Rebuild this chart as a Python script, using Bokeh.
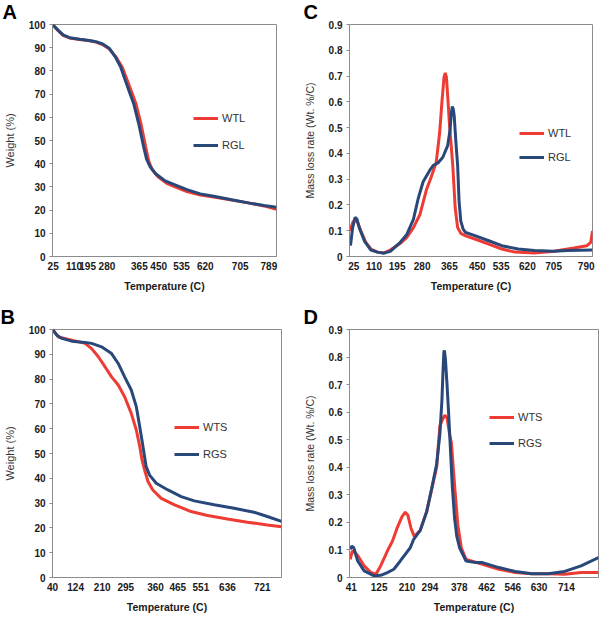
from bokeh.plotting import figure
from bokeh.layouts import column, row
from bokeh.models import FixedTicker, Range1d
from bokeh.embed import file_html
from bokeh.resources import INLINE

RED = "#EE3B33"
BLUE = "#29487A"
FRAME = "#8C8C8C"
FONT = "Liberation Sans"

# x is the position along each panel's category axis (0-100 % of axis length)
# ---------------- Panel A (TG, leaves) ----------------
a_xtick_pos = [0.3, 9.6, 15.7, 24.3, 38.8, 47.4, 57.6, 68.2, 83.8, 96.6]
a_xtick_lab = ["25", "110", "195", "280", "365", "450", "535", "620", "705", "789"]
a_rgl_x = [0, 2.5, 4.7, 7.6, 12.1, 16.5, 19.4, 22.4, 25.3, 28.2, 30.5, 32.6, 34.5, 36.3, 38.5, 40.7,
           42.0, 43.5, 45.9, 50.3, 54.7, 60, 66, 72, 80, 88, 94.4, 100]
a_rgl_y = [100, 97.6, 95.5, 94.3, 93.6, 93.1, 92.6, 91.6, 89.8, 85.8, 81.5, 75.6, 70.5, 65.7, 57.2, 47.2,
           42.0, 38.8, 35.8, 32.6, 30.9, 28.8, 27.0, 26.0, 24.5, 23.0, 22.0, 21.2]
a_wtl_x = [0, 2.5, 4.7, 7.6, 12.1, 16.5, 19.4, 22.4, 25.3, 28.5, 31.2, 33.5, 35.5, 37.3, 39.5, 41.6,
           43.0, 44.5, 47, 51, 55, 60, 66, 72, 80, 88, 94.4, 100]
a_wtl_y = [100, 97.3, 95.3, 94.2, 93.5, 93.0, 92.4, 91.3, 89.5, 85.8, 81.5, 75.6, 70.5, 65.7, 57.2, 47.2,
           41.0, 37.5, 34.5, 31.5, 29.9, 28.0, 26.5, 25.6, 24.3, 23.0, 21.8, 20.3]

# ---------------- Panel B (TG, stems) ----------------
b_xtick_pos = [0, 10.1, 21.7, 32.0, 45.0, 54.7, 64.8, 76.4, 91.6]
b_xtick_lab = ["40", "124", "210", "295", "360", "465", "551", "636", "721"]
b_rgs_x = [0, 1.9, 4.1, 8.4, 14.2, 17.1, 21.4, 25.8, 28.7, 31.5, 34.4, 36.6, 38.1, 39.5, 40.9, 42.4,
           45.3, 50.4, 56.2, 61.9, 70.6, 79.3, 88.0, 93.8, 100]
b_rgs_y = [100, 97.7, 96.4, 95.3, 94.8, 94.4, 93.0, 90.3, 86.3, 80.9, 75.6, 68.9, 60.8, 52.8, 44.7, 41.3,
           38.0, 35.3, 32.6, 30.9, 29.3, 27.9, 26.3, 24.6, 22.6]
b_wts_x = [0, 2.6, 8.4, 14.2, 17.1, 20.0, 22.9, 25.8, 28.7, 31.5, 34.4, 36.6, 38.1, 39.1, 40.2, 41.7,
           43.8, 47.5, 53.3, 60.5, 67.7, 76.4, 85.1, 93.8, 100]
b_wts_y = [100, 97.0, 95.7, 94.4, 92.3, 89.0, 85.0, 80.9, 77.6, 72.9, 66.2, 59.5, 52.8, 47.4, 43.4, 38.7,
           35.3, 31.9, 29.3, 26.6, 25.0, 23.6, 22.3, 21.2, 20.5]

# ---------------- Panel C (DTG, leaves) ----------------
c_xtick_pos = [1.8, 10.1, 19.6, 29.9, 41.1, 52.6, 62.4, 73.2, 84.0, 97.4]
c_xtick_lab = ["25", "110", "195", "280", "365", "450", "535", "620", "705", "790"]
c_rgl_x = [0.4, 1.3, 2.3, 3.1, 4.0, 6.1, 8.8, 11.5, 14.2, 16.8, 20.9, 23.6, 26.3, 28.3, 30.3, 33.0,
           34.4, 36.4, 38.4, 40.4, 41.4, 41.9, 42.3, 42.7, 43.1, 43.8, 44.5, 45.1, 45.8, 46.8, 47.8,
           51.9, 57.3, 62.7, 69.4, 76.1, 84.2, 89.6, 100]
c_rgl_y = [0.042, 0.112, 0.152, 0.144, 0.112, 0.061, 0.025, 0.017, 0.013, 0.020, 0.055, 0.086, 0.144,
           0.226, 0.290, 0.334, 0.353, 0.363, 0.385, 0.430, 0.493, 0.557, 0.582, 0.572, 0.544, 0.442,
           0.353, 0.213, 0.137, 0.105, 0.093, 0.080, 0.061, 0.042, 0.029, 0.023, 0.020, 0.023, 0.025]
c_wtl_x = [0.3, 1.3, 2.3, 3.4, 4.7, 6.7, 8.8, 11.5, 14.2, 16.8, 20.9, 23.6, 26.3, 29.0, 31.7, 33.7,
           35.7, 37.1, 38.1, 38.9, 39.4, 39.9, 40.6, 41.1, 42.5, 43.5, 44.5, 45.8, 47.8, 51.9, 57.3,
           62.7, 68.1, 76.1, 84.2, 92.3, 97.7, 99.3, 100]
c_wtl_y = [0.099, 0.131, 0.144, 0.131, 0.099, 0.055, 0.029, 0.017, 0.014, 0.025, 0.051, 0.074, 0.112,
           0.163, 0.260, 0.310, 0.366, 0.480, 0.607, 0.696, 0.712, 0.694, 0.595, 0.518, 0.353, 0.188,
           0.112, 0.090, 0.080, 0.067, 0.048, 0.029, 0.017, 0.014, 0.020, 0.033, 0.042, 0.055, 0.099]

# ---------------- Panel D (DTG, stems) ----------------
d_xtick_pos = [0.7, 11.9, 23.1, 32.3, 44.1, 55.1, 65.6, 76.1, 87.1]
d_xtick_lab = ["41", "125", "210", "294", "378", "462", "546", "630", "714"]
d_rgs_x = [0.3, 0.9, 1.7, 3.3, 5.9, 9.9, 12.5, 15.2, 17.8, 20.4, 24.4, 25.7, 28.4, 31.0, 33.0, 35.0,
           36.3, 37.1, 37.6, 37.9, 38.1, 38.5, 39.1, 39.7, 40.5, 41.3, 42.2, 43.1, 44.2, 46.8, 50.8,
           53.4, 60.0, 66.6, 73.2, 79.8, 86.4, 93.0, 100]
d_rgs_y = [0.102, 0.114, 0.108, 0.060, 0.024, 0.006, 0.008, 0.018, 0.030, 0.060, 0.108, 0.137, 0.171,
           0.239, 0.323, 0.412, 0.520, 0.640, 0.760, 0.818, 0.824, 0.795, 0.711, 0.615, 0.472, 0.329,
           0.215, 0.149, 0.108, 0.060, 0.054, 0.054, 0.036, 0.022, 0.014, 0.014, 0.022, 0.042, 0.072]
d_wts_x = [0.3, 1.1, 2.0, 3.3, 5.9, 8.6, 10.6, 12.5, 15.2, 17.2, 19.1, 21.1, 22.4, 23.4, 24.7, 26.0,
           28.4, 31.0, 33.0, 35.0, 36.3, 37.3, 38.3, 39.2, 40.2, 40.9, 42.2, 43.5, 44.9, 46.8, 53.4,
           60.0, 66.6, 73.2, 79.8, 86.4, 93.0, 100]
d_wts_y = [0.066, 0.096, 0.092, 0.080, 0.042, 0.018, 0.012, 0.042, 0.096, 0.131, 0.179, 0.221, 0.237,
           0.227, 0.179, 0.149, 0.171, 0.240, 0.320, 0.400, 0.550, 0.573, 0.589, 0.579, 0.520, 0.490,
           0.335, 0.191, 0.108, 0.066, 0.048, 0.030, 0.018, 0.014, 0.014, 0.012, 0.018, 0.018]

tg_yticks = [0, 10, 20, 30, 40, 50, 60, 70, 80, 90, 100]
dtg_yticks = [0, 0.1, 0.2, 0.3, 0.4, 0.5, 0.6, 0.7, 0.8, 0.9]
dtg_ylabels = ["0", "0.1", "0.2", "0.3", "0.4", "0.5", "0.6", "0.7", "0.8", "0.9"]


def panel(letter, w, h, borders, xpos, xlab, ymax, yticks, ylabels, ylabel, ylabel_size, ylab_standoff,
          red, blue, names, leg_loc, leg_spacing, letter_x):
    left, right, top, bottom = borders
    p = figure(width=w, height=h, output_backend="svg", toolbar_location=None,
               x_range=Range1d(0, 100), y_range=Range1d(0, ymax))
    p.min_border_left, p.min_border_right = left, right
    p.min_border_top, p.min_border_bottom = top, bottom
    p.grid.visible = False
    p.outline_line_color = FRAME
    p.outline_line_width = 1
    p.background_fill_color = "white"
    p.border_fill_color = "white"

    # panel letter as the figure title, pulled left into the margin
    p.title.text = letter
    p.title.align = "left"
    p.title.vertical_align = "top"
    p.title.offset = -(left - letter_x)
    p.title.standoff = 0
    p.title.text_font = FONT
    p.title.text_font_style = "bold"
    p.title.text_font_size = "20px"
    p.title.text_color = "black"

    p.line(red[0], red[1], color=RED, line_width=3, legend_label=names[0])
    p.line(blue[0], blue[1], color=BLUE, line_width=3, legend_label=names[1])

    xa = p.xaxis[0]
    xa.ticker = FixedTicker(ticks=xpos)
    xa.major_label_overrides = {pp: ll for pp, ll in zip(xpos, xlab)}
    xa.major_tick_out = 0
    xa.major_tick_in = 0
    xa.minor_tick_out = 0
    xa.minor_tick_in = 0
    xa.axis_line_color = FRAME
    xa.major_label_text_font = FONT
    xa.major_label_text_font_style = "bold"
    xa.major_label_text_font_size = "10px"
    xa.major_label_text_color = "#1a1a1a"
    xa.major_label_standoff = 5
    xa.axis_label = "Temperature (C)"
    xa.axis_label_text_font = FONT
    xa.axis_label_text_font_style = "bold"
    xa.axis_label_text_font_size = "10.5px"
    xa.axis_label_text_color = "#1a1a1a"
    xa.axis_label_standoff = 7

    ya = p.yaxis[0]
    ya.ticker = FixedTicker(ticks=yticks)
    if ylabels is not None:
        ya.major_label_overrides = {t: l for t, l in zip(yticks, ylabels)}
    ya.major_tick_out = 3
    ya.major_tick_in = 0
    ya.minor_tick_out = 0
    ya.minor_tick_in = 0
    ya.major_tick_line_color = FRAME
    ya.axis_line_color = FRAME
    ya.major_label_text_font = FONT
    ya.major_label_text_font_style = "bold"
    ya.major_label_text_font_size = "10px"
    ya.major_label_text_color = "#1a1a1a"
    ya.major_label_standoff = 4
    ya.axis_label = ylabel
    ya.axis_label_text_font = FONT
    ya.axis_label_text_font_style = "normal"
    ya.axis_label_text_font_size = ylabel_size
    ya.axis_label_text_color = "#333333"
    ya.axis_label_standoff = ylab_standoff

    lg = p.legend[0]
    lg.location = leg_loc
    lg.padding = 0
    lg.margin = 0
    lg.border_line_alpha = 0
    lg.background_fill_alpha = 0
    lg.glyph_width = 25
    lg.glyph_height = 20
    lg.label_height = 20
    lg.spacing = leg_spacing
    lg.label_standoff = 4
    lg.label_text_font = FONT
    lg.label_text_font_size = "11px"
    lg.label_text_color = "#333333"
    return p


pA = panel("A", 300, 305, (49, 24, 23, 47), a_xtick_pos, a_xtick_lab, 100, tg_yticks, None,
           "Weight (%)", "11px", 10, (a_wtl_x, a_wtl_y), (a_rgl_x, a_rgl_y), ["WTL", "RGL"],
           (141, 101), 7, -1)
pC = panel("C", 300, 305, (45, 8, 20, 49), c_xtick_pos, c_xtick_lab, 0.9, dtg_yticks, dtg_ylabels,
           "Mass loss rate (Wt. %/C)", "10.5px", 10, (c_wtl_x, c_wtl_y), (c_rgl_x, c_rgl_y),
           ["WTL", "RGL"], (170, 89), 4, -1)
pB = panel("B", 300, 312, (51, 19, 24, 39), b_xtick_pos, b_xtick_lab, 100, tg_yticks, None,
           "Weight (%)", "11px", 10, (b_wts_x, b_wts_y), (b_rgs_x, b_rgs_y), ["WTS", "RGS"],
           (122, 113), 7, -1)
pD = panel("D", 300, 312, (45, 2, 21, 40), d_xtick_pos, d_xtick_lab, 0.9, dtg_yticks, dtg_ylabels,
           "Mass loss rate (Wt. %/C)", "10.5px", 10, (d_wts_x, d_wts_y), (d_rgs_x, d_rgs_y),
           ["WTS", "RGS"], (140, 124), 6, -1)

layout = column(row(pA, pC), row(pB, pD))
open("out.html", "w").write(file_html(layout, INLINE))
